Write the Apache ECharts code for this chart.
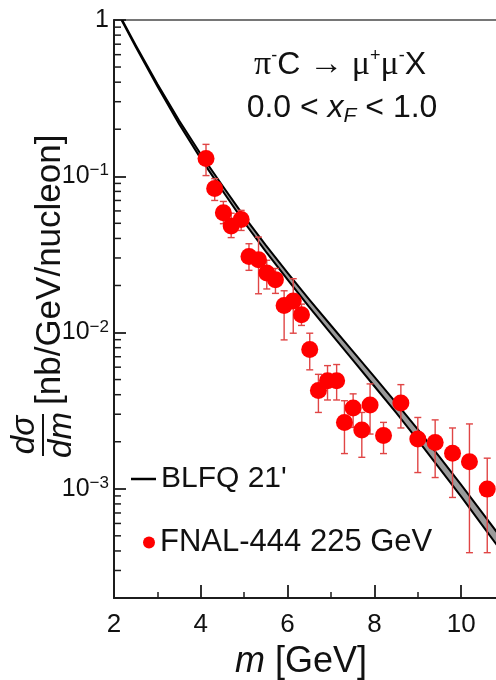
<!DOCTYPE html>
<html>
<head>
<meta charset="utf-8">
<script src="https://cdn.jsdelivr.net/npm/echarts@6/dist/echarts.min.js"></script>
<style>
  html, body { margin: 0; padding: 0; background: #fff; }
  #chart { width: 496px; height: 680px; }
</style>
</head>
<body>
<div id="chart"></div>
<script>
// BLFQ band: upper and lower edges of the prediction, dσ/dm in nb/GeV/nucleon
const curveMass  = [2.18, 2.5, 3.0, 3.5, 4.0, 4.5, 5.0, 5.5, 6.0, 6.5, 7.0, 7.5, 8.0, 8.5, 9.0, 9.5, 10.0, 10.5, 11.0];
const curveUpper = [1.01, 0.689, 0.390, 0.2277, 0.1384, 0.0869, 0.0552, 0.0361, 0.0241, 0.01622, 0.01109, 0.00760, 0.00520, 0.00355, 0.00240, 0.00160, 0.001060, 0.000693, 0.000454];
const curveLower = [0.993, 0.673, 0.376, 0.2164, 0.1297, 0.0808, 0.0508, 0.0329, 0.0218, 0.01452, 0.00984, 0.00668, 0.00453, 0.00307, 0.00205, 0.00135, 0.000890, 0.000576, 0.000374];

// FNAL-444, π⁻C at 225 GeV
const dataMass  = [4.12, 4.32, 4.52, 4.70, 4.93, 5.11, 5.33, 5.52, 5.72, 5.92, 6.13, 6.32, 6.51, 6.71, 6.92, 7.13, 7.31, 7.51, 7.71, 7.90, 8.21, 8.61, 9.00, 9.40, 9.80, 10.19, 10.60];
const dataValue = [0.130, 0.0834, 0.0585, 0.0481, 0.0528, 0.0307, 0.0292, 0.0240, 0.0218, 0.0149, 0.0159, 0.0130, 0.00778, 0.00425, 0.00492, 0.00492, 0.00266, 0.00329, 0.00238, 0.00344, 0.00219, 0.00354, 0.00208, 0.00198, 0.00169, 0.00149, 0.000995];
const dataLow   = [0.101, 0.070, 0.0497, 0.0405, 0.045, 0.025, 0.0177, 0.019, 0.0178, 0.00897, 0.0099, 0.0111, 0.00577, 0.00308, 0.0037, 0.0037, 0.00168, 0.00247, 0.00159, 0.00224, 0.00168, 0.00245, 0.00127, 0.00118, 0.00088, 0.00039, 0.00039];
const dataHigh  = [0.160, 0.0966, 0.069, 0.058, 0.0605, 0.037, 0.0408, 0.029, 0.0257, 0.0185, 0.0221, 0.0152, 0.0099, 0.0054, 0.00614, 0.00624, 0.00366, 0.00405, 0.00308, 0.00469, 0.00266, 0.00464, 0.00286, 0.00276, 0.00245, 0.0026, 0.00157];

const xTickStep = 2;
const xMin = 2, xMax = 12;
const yMin = 2e-4, yMax = 1;

const SANS = '"Liberation Sans", Arial, Helvetica, sans-serif';
const SERIF = '"Liberation Serif", "Times New Roman", serif';
const INK = '#111';
const AXIS = '#1c1c1c';

// log-spaced minor ticks (2..9 × 10^k) along the left axis
const minorTickValues = [];
for (let k = -4; k <= -1; k++) {
  for (let j = 2; j <= 9; j++) {
    const v = j * Math.pow(10, k);
    if (v >= yMin && v <= yMax) minorTickValues.push([xMin, v]);
  }
}

const chart = echarts.init(document.getElementById('chart'), null, { renderer: 'canvas' });

const option = {
  animation: false,
  backgroundColor: '#fff',
  grid: {
    left: 114, top: 20, right: -52, bottom: 82,
    containLabel: false,
    outerBoundsMode: 'none',
    show: true, borderColor: '#4a4a4a', borderWidth: 1.5
  },
  xAxis: {
    type: 'value', min: xMin, max: xMax, interval: xTickStep,
    axisLine: { lineStyle: { color: AXIS, width: 2 } },
    axisTick: { inside: true, length: 13, lineStyle: { color: AXIS, width: 1.8 } },
    minorTick: { show: true, splitNumber: 2, length: 6, lineStyle: { color: AXIS, width: 1.5 } },
    splitLine: { show: false },
    minorSplitLine: { show: false },
    axisLabel: {
      fontSize: 26, color: INK, fontFamily: SANS, margin: 14,
      showMaxLabel: false
    }
  },
  yAxis: {
    type: 'log', logBase: 10, min: yMin, max: yMax,
    axisLine: { lineStyle: { color: AXIS, width: 2 } },
    axisTick: { inside: true, length: 12, lineStyle: { color: AXIS, width: 1.8 } },
    splitLine: { show: false },
    axisLabel: {
      showMinLabel: false,
      margin: 5,
      formatter: function (value) {
        const e = Math.round(Math.log10(value));
        if (e === 0) return '{n|1}';
        return '{n|10}{s|−' + (-e) + '}';
      },
      rich: {
        n: { fontSize: 25, fontFamily: SANS, color: INK, lineHeight: 28 },
        s: { fontSize: 17, fontFamily: SANS, color: INK, lineHeight: 17, verticalAlign: 'top' }
      }
    }
  },
  legend: [
    {
      data: [{ name: "BLFQ 21'", icon: 'rect', itemStyle: { color: '#000' } }],
      left: 126, top: 459, itemWidth: 25, itemHeight: 2.5,
      selectedMode: false,
      textStyle: { fontSize: 30, fontFamily: SANS, color: INK }
    },
    {
      data: [{ name: 'FNAL-444 225 GeV', icon: 'circle', itemStyle: { color: '#ff0000' } }],
      left: 138, top: 522, itemWidth: 12, itemHeight: 12,
      selectedMode: false,
      textStyle: { fontSize: 31, fontFamily: SANS, color: INK }
    }
  ],
  graphic: [
    {
      type: 'text', x: 340, y: 65, z: 10,
      style: {
        text: '{g|π}{p|-}{a|C }{g|→ μ}{p|+}{g|μ}{p|-}{a|X}',
        align: 'center', verticalAlign: 'middle',
        rich: {
          a: { fontSize: 32, fontFamily: SANS, fill: INK, lineHeight: 36 },
          g: { fontSize: 34, fontFamily: SERIF, fill: INK, lineHeight: 36 },
          p: { fontSize: 18, fontFamily: SANS, fill: INK, lineHeight: 18, verticalAlign: 'top' }
        }
      }
    },
    {
      type: 'text', x: 342, y: 108, z: 10,
      style: {
        text: '{a|0.0 < }{i|x}{b|F}{a| < 1.0}',
        align: 'center', verticalAlign: 'middle',
        rich: {
          a: { fontSize: 32, fontFamily: SANS, fill: INK, lineHeight: 38 },
          i: { fontSize: 32, fontFamily: SANS, fontStyle: 'italic', fill: INK, lineHeight: 38 },
          b: { fontSize: 21, fontFamily: SANS, fontStyle: 'italic', fill: INK, lineHeight: 12, verticalAlign: 'bottom' }
        }
      }
    },
    {
      type: 'text', x: 301, y: 662, z: 10,
      style: {
        text: '{i|m} [GeV]',
        align: 'center', verticalAlign: 'middle',
        rich: {
          i: { fontSize: 36, fontFamily: SANS, fontStyle: 'italic', fill: INK }
        },
        fontSize: 36, fontFamily: SANS, fill: INK
      }
    },
    {
      type: 'group', x: 43, y: 435, rotation: Math.PI / 2, z: 10,
      children: [
        { type: 'text', x: 0, y: -2, style: { text: 'dσ', fontSize: 33, fontFamily: SANS, fontStyle: 'italic', fill: INK, align: 'center', verticalAlign: 'bottom' } },
        { type: 'line', shape: { x1: -21, y1: 0, x2: 21, y2: 0 }, style: { stroke: INK, lineWidth: 2 } },
        { type: 'text', x: 0, y: 2, style: { text: 'dm', fontSize: 33, fontFamily: SANS, fontStyle: 'italic', fill: INK, align: 'center', verticalAlign: 'top' } },
        { type: 'text', x: 30, y: 7, style: { text: '[nb/GeV/nucleon]', fontSize: 35, fontFamily: SANS, fill: INK, align: 'left', verticalAlign: 'middle' } }
      ]
    }
  ],
  series: [
    {
      name: "BLFQ 21'",
      type: 'custom',
      z: 3,
      silent: true,
      clip: true,
      data: [[curveMass[0], curveUpper[0]]],
      renderItem: function (params, api) {
        const up = curveMass.map((m, i) => api.coord([m, curveUpper[i]]));
        const lo = curveMass.map((m, i) => api.coord([m, curveLower[i]]));
        const band = up.concat(lo.slice().reverse());
        return {
          type: 'group',
          children: [
            { type: 'polygon', shape: { points: band }, style: { fill: '#9a9a9a', stroke: null } },
            { type: 'polyline', shape: { points: up }, style: { stroke: '#000', lineWidth: 2, fill: null } },
            { type: 'polyline', shape: { points: lo }, style: { stroke: '#000', lineWidth: 2, fill: null } }
          ]
        };
      }
    },
    {
      name: 'errors',
      type: 'custom',
      z: 4,
      silent: true,
      data: dataMass.map((m, i) => [m, dataValue[i], dataLow[i], dataHigh[i]]),
      encode: { x: 0, y: [1, 2, 3] },
      renderItem: function (params, api) {
        const m = api.value(0);
        const top = api.coord([m, api.value(3)]);
        const bot = api.coord([m, api.value(2)]);
        const cap = 3.5;
        const st = { stroke: '#e04545', lineWidth: 1.4 };
        return {
          type: 'group',
          children: [
            { type: 'line', shape: { x1: top[0], y1: top[1], x2: bot[0], y2: bot[1] }, style: st },
            { type: 'line', shape: { x1: top[0] - cap, y1: top[1], x2: top[0] + cap, y2: top[1] }, style: st },
            { type: 'line', shape: { x1: bot[0] - cap, y1: bot[1], x2: bot[0] + cap, y2: bot[1] }, style: st }
          ]
        };
      }
    },
    {
      name: 'FNAL-444 225 GeV',
      type: 'scatter',
      z: 5,
      symbol: 'circle',
      symbolSize: 17,
      itemStyle: { color: '#ff0000', opacity: 1 },
      data: dataMass.map((m, i) => [m, dataValue[i]])
    },
    {
      name: 'minor ticks',
      type: 'custom',
      z: 6,
      silent: true,
      clip: false,
      data: minorTickValues,
      renderItem: function (params, api) {
        const p = api.coord([api.value(0), api.value(1)]);
        return {
          type: 'line',
          shape: { x1: p[0], y1: p[1], x2: p[0] + 7, y2: p[1] },
          style: { stroke: AXIS, lineWidth: 1.5 }
        };
      }
    }
  ]
};

chart.setOption(option);
</script>
</body>
</html>
